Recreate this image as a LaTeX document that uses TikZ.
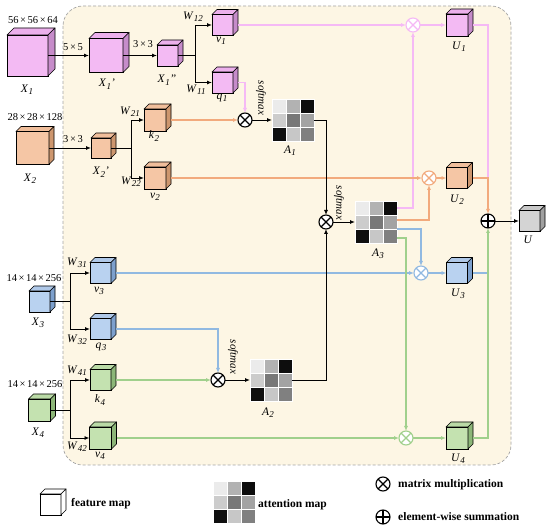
\documentclass[tikz,border=0pt]{standalone}
\usepackage{fontspec}
\setmainfont{Liberation Serif}
\usetikzlibrary{arrows.meta,calc}
\definecolor{bgC}{RGB}{253,246,228}
\definecolor{bdC}{RGB}{165,165,165}
\definecolor{pkF}{RGB}{243,186,243}
\definecolor{pkT}{RGB}{236,176,236}
\definecolor{pkS}{RGB}{198,140,202}
\definecolor{orF}{RGB}{245,198,165}
\definecolor{orT}{RGB}{240,190,155}
\definecolor{orS}{RGB}{205,150,110}
\definecolor{blF}{RGB}{185,210,240}
\definecolor{blT}{RGB}{175,200,232}
\definecolor{blS}{RGB}{125,160,205}
\definecolor{grF}{RGB}{196,226,176}
\definecolor{grT}{RGB}{186,218,166}
\definecolor{grS}{RGB}{140,182,120}
\definecolor{gyF}{RGB}{212,212,212}
\definecolor{gyT}{RGB}{200,200,200}
\definecolor{gyS}{RGB}{160,160,160}
\definecolor{whF}{RGB}{255,255,255}
\definecolor{whT}{RGB}{255,255,255}
\definecolor{whS}{RGB}{255,255,255}
\definecolor{pkL}{RGB}{245,185,245}
\definecolor{orL}{RGB}{242,170,125}
\definecolor{blL}{RGB}{145,185,225}
\definecolor{grL}{RGB}{160,208,140}
\newcommand{\mylb}[2]{\textit{#1}\kern0.3pt\raisebox{-0.45ex}{\fontsize{9}{10}\selectfont\textit{#2}}}
\newcommand{\mytimes}{\hspace{0.15em}×\hspace{0.15em}}
\newcommand{\fcube}[6]{%
  \node[cubefront, fill=#6F, minimum size=#4pt] (#1) at (#2,#3) {};
  \filldraw[cubeedge, fill=#6T] (#1.north west) -- ++(#5,-#5) -- ++(#4,0) -- (#1.north east) -- cycle;
  \filldraw[cubeedge, fill=#6S] (#1.north east) -- ++(#5,-#5) -- ++(0,#4) -- (#1.south east) -- cycle;
}
\newcommand{\amat}[3]{%
  \node[matnode] (#1) at ({#2+21},{#3+21}) {};
  \foreach \rr/\cc/\sh in {0/0/8,0/1/30,0/2/95,1/0/20,1/1/53,1/2/36,2/0/94,2/1/22,2/2/50}
    \filldraw[fill=black!\sh, draw=white, line width=0.8pt] ($(#1.north west)+(\cc*14,\rr*14)$) rectangle ++(14,14);
}
\newcommand{\otim}[4]{%
  \node[opnode, draw=#4] (#1) at (#2,#3) {};
  \draw[#4, line width=1.1pt] (#1.45) -- (#1.225) (#1.135) -- (#1.315);
}
\newcommand{\opls}[3]{%
  \node[opnode] (#1) at (#2,#3) {};
  \draw[line width=1.1pt] (#1.north) -- (#1.south) (#1.east) -- (#1.west);
}
\begin{document}
\begin{tikzpicture}[x=1pt,y=-1pt,
  cubefront/.style={rectangle, draw=black, line width=0.7pt, inner sep=0pt, outer sep=0pt},
  cubeedge/.style={draw=black, line width=0.7pt, line join=round},
  matnode/.style={inner sep=0pt, outer sep=0pt, minimum size=42pt},
  opnode/.style={circle, draw, fill=white, inner sep=0pt, outer sep=0pt, minimum size=14pt, line width=1.1pt},
  blk/.style={draw=black, line width=0.9pt},
  arr/.style={-{Latex[length=5pt,width=4pt]}},
  pkl/.style={draw=pkL, line width=1.1pt},
  orl/.style={draw=orL, line width=1.1pt},
  bll/.style={draw=blL, line width=1.1pt},
  grl/.style={draw=grL, line width=1.1pt},
  lbl/.style={font=\fontsize{11.5}{13}\selectfont, inner sep=0pt},
  dimt/.style={font=\fontsize{10.5}{12}\selectfont, inner sep=0pt},
  smx/.style={font=\fontsize{11}{12}\selectfont\itshape, rotate=-90, inner sep=0pt},
  legt/.style={font=\fontsize{11.5}{13}\selectfont\bfseries, inner sep=0pt, anchor=west}]
\useasboundingbox (0,0) rectangle (550,529);
\fill[white] (0,0) rectangle (550,529);
\filldraw[fill=bgC, draw=bdC, line width=0.7pt, dash pattern=on 3pt off 2pt, rounded corners=20pt] (63,6) rectangle (511,465);

% cubes
\fcube{X1}{27.5}{55.5}{41}{7}{pk}
\fcube{X1p}{106}{55.5}{34}{6}{pk}
\fcube{X1pp}{167.5}{55.5}{21}{5}{pk}
\fcube{v1}{222.5}{25}{21}{5}{pk}
\fcube{q1}{222.5}{82.5}{21}{5}{pk}
\fcube{X2}{32.5}{148}{33}{5}{or}
\fcube{X2p}{101}{148}{20}{5}{or}
\fcube{k2}{155}{120}{22}{5}{or}
\fcube{v2}{155}{178}{22}{5}{or}
\fcube{X3}{39.5}{301.5}{21}{5}{bl}
\fcube{v3}{100.5}{273}{21}{5}{bl}
\fcube{q3}{100.5}{329}{21}{5}{bl}
\fcube{X4}{39.5}{410}{22}{5}{gr}
\fcube{k4}{100.5}{380}{21}{5}{gr}
\fcube{v4}{100.5}{438}{22}{5}{gr}
\fcube{U1}{457}{25}{22}{5}{pk}
\fcube{U2}{457}{178}{21}{5}{or}
\fcube{U3}{457}{273}{21}{5}{bl}
\fcube{U4}{457}{438}{22}{5}{gr}
\fcube{U}{529.5}{221}{21}{5}{gy}

% attention maps
\amat{A1}{272}{99}
\amat{A2}{250}{359}
\amat{A3}{355}{201}

% operators
\otim{o1}{245}{120}{black}
\otim{o2}{218}{380}{black}
\otim{o3}{326}{222}{black}
\otim{p1}{413}{25}{pkL}
\otim{p2}{429}{178}{orL}
\otim{p3}{421}{273}{blL}
\otim{p4}{406}{438}{grL}
\opls{sum}{488}{221}

% coordinates
\coordinate (b1) at (195,55.5);
\coordinate (b2) at (131,148);
\coordinate (b3) at (70,301.5);
\coordinate (b4) at (70,410);
\coordinate (a3p) at ($(A3.north east)+(0,7)$);
\coordinate (a3o) at ($(A3.north east)+(0,19)$);
\coordinate (a3b) at ($(A3.north east)+(0,28)$);
\coordinate (a3g) at ($(A3.north east)+(0,37)$);
\coordinate (j2) at (sum.north |- U2.east);

% coloured connectors
\draw[pkl,arr] ([xshift=5pt]v1.east) -- (p1.west);
\draw[pkl,arr] (p1.east) -- (U1.west);
\draw[pkl,arr] ([xshift=5pt]q1.east) -| (o1.north);
\draw[pkl,arr] (a3p) -| (p1.south);
\draw[pkl] ([xshift=5pt]U1.east) -| (j2);
\draw[orl,arr] ([xshift=5pt]k2.east) -- (o1.west);
\draw[orl,arr] ([xshift=5pt]v2.east) -- (p2.west);
\draw[orl,arr] (p2.east) -- (U2.west);
\draw[orl,arr] (a3o) -| (p2.south);
\draw[orl,arr] ([xshift=5pt]U2.east) -| (sum.north);
\draw[bll,arr] ([xshift=5pt]v3.east) -- (p3.west);
\draw[bll,arr] (p3.east) -- (U3.west);
\draw[bll,arr] ([xshift=5pt]q3.east) -| (o2.north);
\draw[bll,arr] (a3b) -| (p3.north);
\draw[bll] ([xshift=5pt]U3.east) -- (U3.east -| sum.south);
\draw[grl,arr] ([xshift=5pt]k4.east) -- (o2.west);
\draw[grl,arr] ([xshift=5pt]v4.east) -- (p4.west);
\draw[grl,arr] (p4.east) -- (U4.west);
\draw[grl,arr] (a3g) -| (p4.north);
\draw[grl,arr] ([xshift=5pt]U4.east) -| (sum.south);

% black connectors
\draw[blk,arr] (X1.east) -- (X1p.west);
\draw[blk,arr] (X1p.east) -- (X1pp.west);
\draw[blk] (X1pp.east) -- (b1);
\draw[blk,arr] (b1) |- (v1.west);
\draw[blk,arr] (b1) |- (q1.west);
\draw[blk,arr] (X2.east) -- (X2p.west);
\draw[blk] (X2p.east) -- (b2);
\draw[blk,arr] (b2) |- (k2.west);
\draw[blk,arr] (b2) |- (v2.west);
\draw[blk] (X3.east) -- (b3);
\draw[blk,arr] (b3) |- (v3.west);
\draw[blk,arr] (b3) |- (q3.west);
\draw[blk] (X4.east) -- (b4);
\draw[blk,arr] (b4) |- (k4.west);
\draw[blk,arr] (b4) |- (v4.west);
\draw[blk,arr] (o1.east) -- (A1.west);
\draw[blk,arr] (o2.east) -- (A2.west);
\draw[blk,arr] (A1.east) -| (o3.north);
\draw[blk,arr] (A2.east) -| (o3.south);
\draw[blk,arr] (o3.east) -- (A3.west);
\draw[blk,arr] (sum.east) -- (U.west);

% labels
\node[dimt] (d1) at (33,20) {56\mytimes56\mytimes64};
\node[dimt] (d2) at (35,117) {28\mytimes28\mytimes128};
\node[dimt] (d3) at (34,278) {14\mytimes14\mytimes256};
\node[dimt] (d4) at (35,384) {14\mytimes14\mytimes256};
\node[dimt] (c1) at (73,47) {5\mytimes5};
\node[dimt] (c2) at (143,44) {3\mytimes3};
\node[dimt] (c3) at (73,139) {3\mytimes3};
\node[lbl] (tX1) at (27,90) {\mylb{X}{1}};
\node[lbl] (tX1p) at (107,84) {\mylb{X}{1}\textit{'}};
\node[lbl] (tX1pp) at (167,80) {\mylb{X}{1}\textit{''}};
\node[lbl] (tv1) at (221,41) {\mylb{v}{1}};
\node[lbl] (tq1) at (222,98) {\mylb{q}{1}};
\node[lbl] (tk2) at (154,136) {\mylb{k}{2}};
\node[lbl] (tv2) at (155,197) {\mylb{v}{2}};
\node[lbl] (tX2) at (30,179) {\mylb{X}{2}};
\node[lbl] (tX2p) at (101,172) {\mylb{X}{2}\textit{'}};
\node[lbl] (tX3) at (38,323) {\mylb{X}{3}};
\node[lbl] (tv3) at (99,291) {\mylb{v}{3}};
\node[lbl] (tq3) at (101,347) {\mylb{q}{3}};
\node[lbl] (tX4) at (38,433) {\mylb{X}{4}};
\node[lbl] (tk4) at (100,400) {\mylb{k}{4}};
\node[lbl] (tv4) at (100,456) {\mylb{v}{4}};
\node[lbl] (tA1) at (290,151) {\mylb{A}{1}};
\node[lbl] (tA2) at (268,413) {\mylb{A}{2}};
\node[lbl] (tA3) at (378,254) {\mylb{A}{3}};
\node[lbl] (tU1) at (459,47) {\mylb{U}{1}};
\node[lbl] (tU2) at (457,200) {\mylb{U}{2}};
\node[lbl] (tU3) at (458,294) {\mylb{U}{3}};
\node[lbl] (tU4) at (458,459) {\mylb{U}{4}};
\node[lbl] (tU) at (528,240) {\textit{U}};
\node[lbl] (w12) at (193,17) {\mylb{W}{12}};
\node[lbl] (w11) at (196,90) {\mylb{W}{11}};
\node[lbl] (w21) at (130,112) {\mylb{W}{21}};
\node[lbl] (w22) at (131,182) {\mylb{W}{22}};
\node[lbl] (w31) at (77,263) {\mylb{W}{31}};
\node[lbl] (w32) at (77,340) {\mylb{W}{32}};
\node[lbl] (w41) at (77,371) {\mylb{W}{41}};
\node[lbl] (w42) at (77,447) {\mylb{W}{42}};
\node[smx] (s1) at (261,98) {softmax};
\node[smx] (s2) at (233,357) {softmax};
\node[smx] (s3) at (339,203) {softmax};

% legend
\fcube{LF}{50.5}{504.5}{21}{5}{wh}
\node[legt] (LFt) at (71,504) {feature map};
\amat{LA}{213}{481}
\node[legt] (LAt) at (258,505) {attention map};
\otim{LM}{383}{484}{black}
\node[legt] (LMt) at (398,485) {matrix multiplication};
\opls{LS}{383}{517}
\node[legt] (LSt) at (398,517) {element-wise summation};
\end{tikzpicture}
\end{document}
